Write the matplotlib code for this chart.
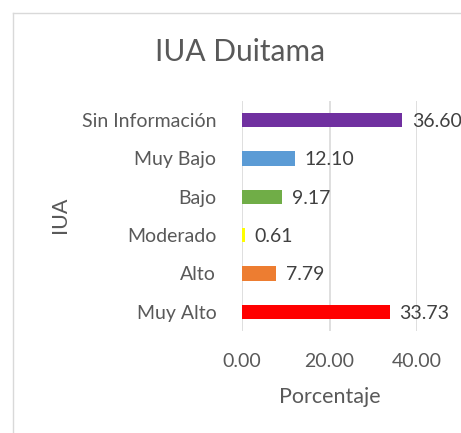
import matplotlib
matplotlib.use("Agg")
import matplotlib.pyplot as plt
from matplotlib.lines import Line2D

categories = ["Muy Alto", "Alto", "Moderado", "Bajo", "Muy Bajo", "Sin Información"]
values = [33.73, 7.79, 0.61, 9.17, 12.10, 36.60]
colors = ["#ff0000", "#ed7d31", "#ffff00", "#70ad47", "#5b9bd5", "#7030a0"]
xticks = [0, 20, 40]

plt.rcParams['font.family'] = ['Lato', 'DejaVu Sans']
fig = plt.figure(figsize=(4.61, 4.33), dpi=100)
ax = fig.add_axes([242/461, (433-331)/433, (417-242)/461, 230/433])

y = list(range(len(categories)))
ax.barh(y, values, height=0.37, color=colors, zorder=3)
for yi, v in zip(y, values):
    ax.annotate(f"{v:.2f}", (v, yi), xytext=(7, -1), textcoords="offset points",
                va="center", ha="left", fontsize=14, color="#404040")

ax.set_xlim(0, 40)
ax.set_ylim(-0.5, len(categories) - 0.5)
ax.set_xticks(xticks)
ax.set_xticklabels([f"{t:.2f}" for t in xticks])
ax.set_yticks(y)
ax.set_yticklabels(categories)
ax.tick_params(axis='both', length=0, labelsize=14, colors="#595959")
ax.tick_params(axis='x', pad=16)
ax.tick_params(axis='y', pad=18.5)
ax.grid(axis='x', color="#d9d9d9", linewidth=1.2, zorder=0)
for s in ax.spines.values():
    s.set_visible(False)

ax.set_xlabel("Porcentaje", fontsize=15.5, color="#595959", labelpad=12)
fig.text(60/461, 1 - 215/433, "IUA", rotation=90, fontsize=15.5, color="#595959",
         ha="center", va="center")
fig.text(240/461, 1 - 52/433, "IUA Duitama", fontsize=21.5, color="#595959",
         ha="center", va="center")

fig.add_artist(Line2D([13/461, 13/461], [0, 1 - 13/433], transform=fig.transFigure,
                      color="#d9d9d9", linewidth=1))
fig.add_artist(Line2D([13/461, 1], [1 - 13/433, 1 - 13/433], transform=fig.transFigure,
                      color="#d9d9d9", linewidth=1))

fig.savefig("out.png", dpi=100)
